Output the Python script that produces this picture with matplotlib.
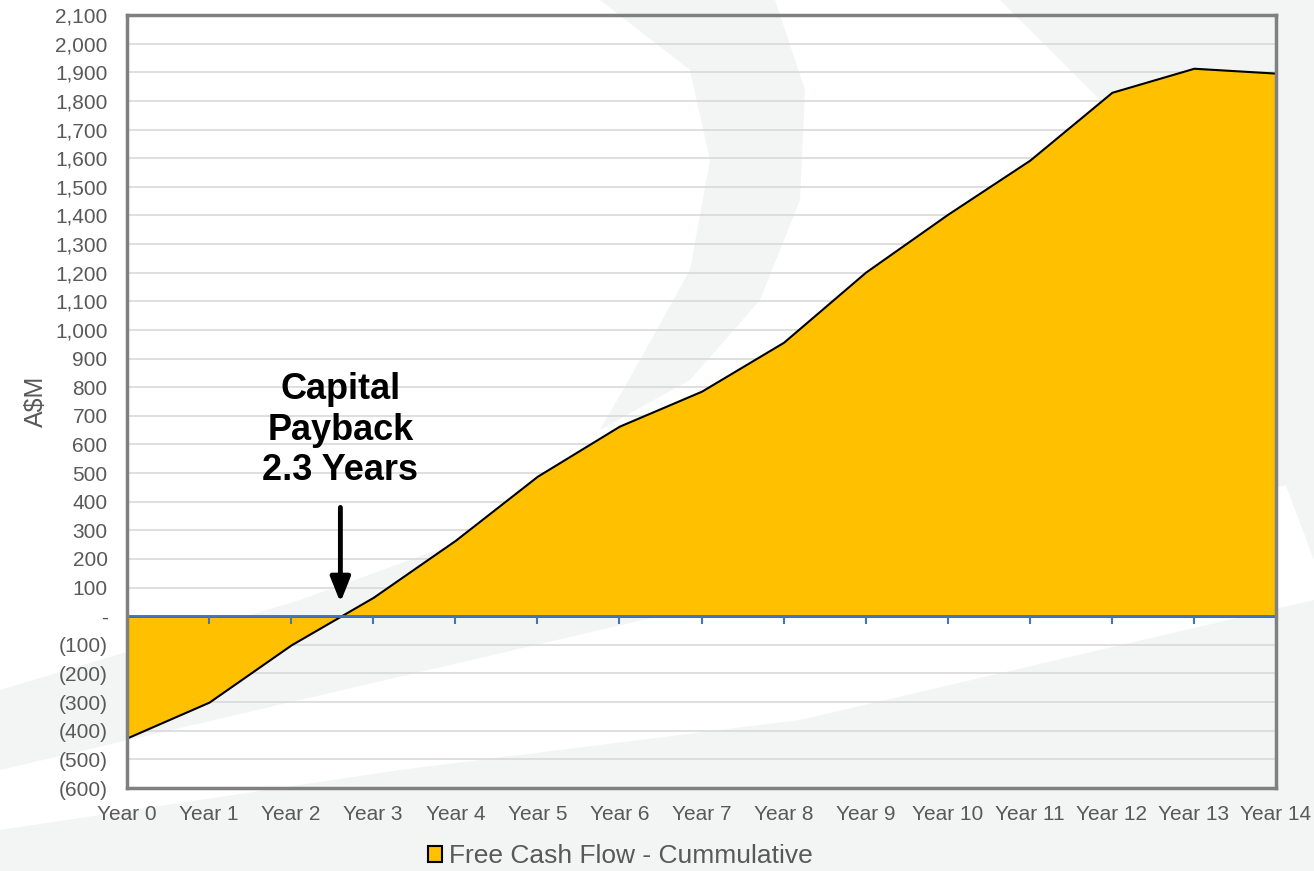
import matplotlib
matplotlib.use("Agg")
import matplotlib.pyplot as plt
from matplotlib.patches import Polygon, Patch
from matplotlib.ticker import FuncFormatter, MultipleLocator

plt.rcParams['font.family'] = ['Liberation Sans', 'DejaVu Sans']

categories = ["Year 0", "Year 1", "Year 2", "Year 3", "Year 4", "Year 5", "Year 6",
              "Year 7", "Year 8", "Year 9", "Year 10", "Year 11", "Year 12",
              "Year 13", "Year 14"]
fcf_cumulative = [-425, -300, -100, 66, 265, 489, 664, 786, 957, 1202, 1404,
                  1593, 1830, 1914, 1897]
series_name = "Free Cash Flow - Cummulative"
payback_year = 2.6
annotation = "Capital\nPayback\n2.3 Years"

W, H = 1314, 871
fig = plt.figure(figsize=(W / 100, H / 100), dpi=100)
fig.patch.set_facecolor("white")

# faint background swooshes (figure pixel coordinates, y from top)
def px(pts):
    return [(x / W, 1 - y / H) for x, y in pts]

bg = "#f3f4f4"
shapes = [
    [(1000, 0), (1314, 0), (1314, 560), (1265, 430), (1205, 270), (1120, 120)],
    [(600, 0), (775, 0), (805, 90), (800, 200), (760, 300), (690, 380), (600, 430),
     (640, 360), (690, 270), (710, 160), (690, 70)],
    [(0, 690), (300, 600), (520, 520), (800, 460), (1314, 400), (1314, 480),
     (900, 560), (600, 630), (300, 700), (0, 770)],
    [(0, 830), (400, 770), (800, 720), (1314, 600), (1314, 871), (0, 871)],
]
for s in shapes:
    fig.add_artist(Polygon(px(s), closed=True, transform=fig.transFigure,
                           facecolor=bg, edgecolor="none", zorder=-10))

ax = fig.add_axes([127 / W, 1 - 788 / H, (1276 - 127) / W, (788 - 15) / H])
ax.set_zorder(1)
ax.set_facecolor("none")

x = list(range(len(categories)))
ax.fill_between(x, fcf_cumulative, 0, facecolor="#FFC000", edgecolor="black",
                linewidth=1.5, zorder=3)
ax.axhline(0, color="#4472C4", linewidth=2, zorder=4)
ax.plot(x, [0] * len(x), linestyle="none", marker=3, markersize=6,
        markeredgewidth=1.5, color="#4472C4", zorder=4)

ax.set_xlim(0, len(categories) - 1)
ax.set_ylim(-600, 2100)
ax.yaxis.set_major_locator(MultipleLocator(100))

def fmt(v, pos):
    v = int(round(v))
    if v == 0:
        return "-"
    if v < 0:
        return "({:,})".format(-v)
    return "{:,}".format(v)

ax.yaxis.set_major_formatter(FuncFormatter(fmt))
ax.set_xticks(x)
ax.set_xticklabels(categories)
ax.grid(axis="y", color="#d9d9d9", linewidth=1.2, zorder=1)
ax.set_axisbelow(True)
ax.tick_params(axis="both", length=0, colors="#595959")
ax.tick_params(axis="x", labelsize=15, pad=12)
ax.tick_params(axis="y", labelsize=15, pad=14)
for sp in ax.spines.values():
    sp.set_color("#808080")
    sp.set_linewidth(2.5)
    sp.set_zorder(5)

ax.set_ylabel("A$M", fontsize=18, color="#595959", labelpad=5)

ax.annotate("", xy=(payback_year, 48), xytext=(payback_year, 380),
            arrowprops=dict(arrowstyle="-|>,head_width=0.3,head_length=0.75",
                            mutation_scale=20, color="black", linewidth=3.5,
                            shrinkA=0, shrinkB=0),
            zorder=6)
ax.text(payback_year, 650, annotation, ha="center", va="center",
        fontsize=26, fontweight="bold", color="black", linespacing=1.2,
        zorder=6)

handle = Patch(facecolor="#FFC000", edgecolor="black", linewidth=1.5)
fig.legend([handle], [series_name], loc="center", bbox_to_anchor=(620 / W, 1 - 856 / H),
           frameon=False, fontsize=19, labelcolor="#595959", handlelength=0.55,
           handleheight=0.55, handletextpad=0.25)

fig.savefig("out.png", dpi=100)
